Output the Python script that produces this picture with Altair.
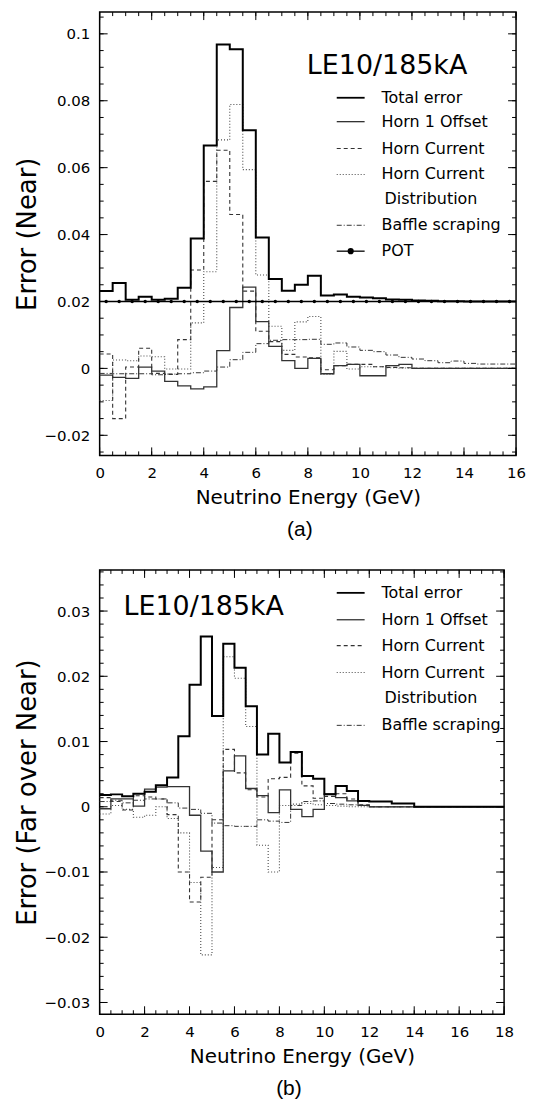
import altair as alt
import numpy as np
import pandas as pd

FONT = "DejaVu Sans"

# ---------------- data ----------------
edges_a = np.arange(0, 16.25, 0.5)   # bin edges, panel (a)
edges_b = np.arange(0, 18.25, 0.5)   # bin edges, panel (b)

# Panel (a): Error (Near), 0.5 GeV bins from 0 to 16 GeV
total_a = [0.0231, 0.0255, 0.0205, 0.0214, 0.0205, 0.0208, 0.0241, 0.0388,
           0.0666, 0.0968, 0.0954, 0.0712, 0.0391, 0.0267, 0.0232, 0.0250,
           0.0277, 0.0218, 0.0221, 0.0214, 0.0212, 0.0210, 0.0206, 0.0205,
           0.0203, 0.0202, 0.0201, 0.0201, 0.0200, 0.0200, 0.0200, 0.0200]
horn1_a = [-0.0020, -0.0027, -0.0030, 0.0004, -0.0008, -0.0039, -0.0052, -0.0061,
           -0.0055, 0.0053, 0.0182, 0.0243, 0.0140, 0.0066, 0.0023, 0.0000,
           0.0030, -0.0016, 0.0008, 0.0012, -0.0022, -0.0022, 0.0008, 0.0012,
           0.0, 0.0, 0.0, 0.0, 0.0, 0.0, 0.0, 0.0]
hc_a = [0.0043, -0.0150, 0.0004, 0.0060, -0.0015, -0.0018, 0.0086, 0.0294,
        0.0559, 0.0652, 0.0460, 0.0231, 0.0111, 0.0080, 0.0042, 0.0034,
        0.0032, -0.0004, 0.0008, 0.0012, 0.0012, 0.0005, 0.0003, 0.0002,
        0.0, 0.0, 0.0, 0.0, 0.0, 0.0, 0.0, 0.0]
hcd_a = [-0.0096, 0.0025, 0.0023, 0.0037, 0.0035, -0.0002, -0.0002, 0.0136,
         0.0289, 0.0683, 0.0789, 0.0594, 0.0279, 0.0126, 0.0054, 0.0139,
         0.0155, -0.0017, 0.0051, -0.0002, 0.0005, 0.0005, 0.0002, 0.0001,
         0.0, 0.0, 0.0, 0.0, 0.0, 0.0, 0.0, 0.0]
baffle_a = [-0.0015, -0.0016, -0.0016, -0.0016, -0.0019, -0.0017, -0.0016, -0.0013,
            -0.0008, 0.0004, 0.0026, 0.0048, 0.0074, 0.0084, 0.0086, 0.0086,
            0.0087, 0.0072, 0.0076, 0.0064, 0.0054, 0.0050, 0.0040, 0.0033,
            0.0028, 0.0023, 0.0017, 0.0022, 0.0015, 0.0013, 0.0013, 0.0013]
pot_a = [0.02, 0.02, 0.02, 0.02, 0.02, 0.02, 0.02, 0.02,
         0.02, 0.02, 0.02, 0.02, 0.02, 0.02, 0.02, 0.02,
         0.02, 0.02, 0.02, 0.02, 0.02, 0.02, 0.02, 0.02,
         0.02, 0.02, 0.02, 0.02, 0.02, 0.02, 0.02, 0.02]

# Panel (b): Error (Far over Near), 0.5 GeV bins from 0 to 18 GeV
total_b = [0.0018, 0.0019, 0.0016, 0.0020, 0.0023, 0.0033, 0.0045, 0.0108,
           0.0187, 0.0261, 0.0139, 0.0250, 0.0213, 0.0154, 0.0080, 0.0112,
           0.0068, 0.0084, 0.0047, 0.0043, 0.0019, 0.0032, 0.0024, 0.0009,
           0.0008, 0.0008, 0.0005, 0.0005, 0.0, 0.0, 0.0, 0.0,
           0.0, 0.0, 0.0, 0.0]
horn1_b = [-0.0003, 0.0012, 0.0012, 0.0001, 0.0027, 0.0030, 0.0031, 0.0031,
           -0.0013, -0.0068, -0.0100, 0.0055, 0.0078, 0.0028, 0.0017, -0.0009,
           0.0026, -0.0004, -0.0015, -0.0004, 0.0020, 0.0014, 0.0009, 0.0002,
           0.0, 0.0, 0.0, 0.0, 0.0, 0.0, 0.0, 0.0,
           0.0, 0.0, 0.0, 0.0]
hc_b = [0.0014, 0.0008, -0.0005, 0.0017, 0.0015, 0.0012, -0.0012, -0.0100,
        -0.0146, -0.0108, -0.0020, 0.0088, 0.0052, 0.0026, 0.0015, 0.0043,
        0.0045, 0.0082, 0.0032, 0.0013, 0.0016, 0.0020, 0.0012, 0.0003,
        0.0, 0.0, 0.0, 0.0, 0.0, 0.0, 0.0, 0.0,
        0.0, 0.0, 0.0, 0.0]
hcd_b = [-0.0011, 0.0002, -0.0004, -0.0016, -0.0013, 0.0000, -0.0018, -0.0040,
         -0.0116, -0.0227, -0.0093, 0.0230, 0.0197, 0.0123, -0.0059, -0.0100,
         0.0002, 0.0004, 0.0005, 0.0003, 0.0002, 0.0001, 0.0, 0.0,
         0.0, 0.0, 0.0, 0.0, 0.0, 0.0, 0.0, 0.0,
         0.0, 0.0, 0.0, 0.0]
baffle_b = [0.0008, 0.0010, 0.0006, 0.0010, 0.0012, 0.0012, 0.0006, -0.0002,
            -0.0004, -0.0010, -0.0025, -0.0029, -0.0030, -0.0030, -0.0020, -0.0022,
            -0.0024, 0.0002, 0.0008, 0.0009, 0.0005, 0.0004, 0.0003, 0.0002,
            0.0, 0.0, 0.0, 0.0, 0.0, 0.0, 0.0, 0.0,
            0.0, 0.0, 0.0, 0.0]

# axis tick values
xmaj_a = [0, 2, 4, 6, 8, 10, 12, 14, 16]
xmin_a = list(np.arange(0, 16.01, 0.5))
ymaj_a = [-0.02, 0, 0.02, 0.04, 0.06, 0.08, 0.1]
ymin_a = list(np.round(np.arange(-0.025, 0.1051, 0.005), 4))
xmaj_b = [0, 2, 4, 6, 8, 10, 12, 14, 16, 18]
xmin_b = list(np.arange(0, 18.01, 0.5))
ymaj_b = [-0.03, -0.02, -0.01, 0, 0.01, 0.02, 0.03]
ymin_b = list(np.round(np.arange(-0.030, 0.0361, 0.002), 4))

panel_label = "LE10/185kA"
legend_rows_a = ["Total error", "Horn 1 Offset", "Horn Current", "Horn Current",
                 "Distribution", "Baffle scraping", "POT"]
legend_keys_a = ["Total error", "Horn 1 Offset", "Horn Current",
                 "Horn Current Distribution", None, "Baffle scraping", "POT"]
legend_rows_b = legend_rows_a[:6]
legend_keys_b = legend_keys_a[:6]

# ---------------- styling ----------------
STYLE = {
    "Total error": dict(color="black", strokeWidth=2.0),
    "Horn 1 Offset": dict(color="#333333", strokeWidth=1.3),
    "Horn Current": dict(color="#333333", strokeWidth=1.1, strokeDash=[4, 3]),
    "Horn Current Distribution": dict(color="#4a4a4a", strokeWidth=1.1, strokeDash=[1, 2]),
    "Baffle scraping": dict(color="#333333", strokeWidth=1.0, strokeDash=[5, 2, 1, 2]),
    "POT": dict(color="black", strokeWidth=1.3),
}
DRAW_ORDER = ["Baffle scraping", "Horn Current Distribution", "Horn Current",
              "Horn 1 Offset", "POT", "Total error"]


def step_frame(edges, values):
    n = len(values)
    xs = list(edges[:n]) + [edges[n]]
    ys = list(values) + [values[-1]]
    return pd.DataFrame({"E": xs, "v": ys})


def tick_layers(xe_f, ye_f, W, H, xmaj, xmin, ymaj, ymin):
    out = []
    for vals, L in [(xmin, 4), (xmaj, 8)]:
        base = alt.Chart(pd.DataFrame({"E": vals})).mark_rule(color="black", strokeWidth=1)
        out.append(base.encode(x=xe_f(), y=alt.value(H), y2=alt.value(H - L)))
        out.append(base.encode(x=xe_f(), y=alt.value(0), y2=alt.value(L)))
    for vals, L in [(ymin, 4), (ymaj, 8)]:
        base = alt.Chart(pd.DataFrame({"v": vals})).mark_rule(color="black", strokeWidth=1)
        out.append(base.encode(y=ye_f(), x=alt.value(0), x2=alt.value(L)))
        out.append(base.encode(y=ye_f(), x=alt.value(W), x2=alt.value(W - L)))
    return out


def legend_layers(rows, keys, row_y, x0, x1, xt, title_xy):
    dummy = pd.DataFrame({"d": [0]})
    out = []
    for text, key, yy in zip(rows, keys, row_y):
        dx = 3 if key is None else 0
        out.append(alt.Chart(dummy).mark_text(
            text=text, align="left", baseline="middle", font=FONT, fontSize=16,
            color="black").encode(x=alt.value(xt + dx), y=alt.value(yy)))
        if key is not None:
            st = dict(STYLE[key])
            if key == "Total error":
                st["strokeWidth"] = 1.8
            out.append(alt.Chart(dummy).mark_rule(**st).encode(
                x=alt.value(x0), x2=alt.value(x1), y=alt.value(yy)))
            if key == "POT":
                out.append(alt.Chart(dummy).mark_point(
                    filled=True, color="black", size=38, opacity=1).encode(
                    x=alt.value((x0 + x1) / 2), y=alt.value(yy)))
    out.append(alt.Chart(dummy).mark_text(
        text=panel_label, align="left", baseline="middle", font=FONT, fontSize=27,
        color="black").encode(x=alt.value(title_xy[0]), y=alt.value(title_xy[1])))
    return out


def panel(series, edges, xdom, ydom, W, H, xmaj, xmin, ymaj, ymin, ytitle,
          caption, cap_dx, legend_rows, legend_keys, row_y, title_xy):
    xs = alt.Scale(domain=xdom, nice=False, zero=False)
    ys = alt.Scale(domain=ydom, nice=False, zero=False)
    xaxis = alt.Axis(values=xmaj, format="~g", title="Neutrino Energy (GeV)",
                     ticks=False, domain=False, grid=False, labelFlush=False,
                     labelFontSize=15, labelPadding=10, titleFontSize=20, titlePadding=7)
    yaxis = alt.Axis(values=ymaj, format="~g", title=ytitle, ticks=False, domain=False,
                     grid=False, labelFlush=False, labelFontSize=15, labelPadding=10,
                     titleFontSize=26, titlePadding=3)

    def xe_f():
        return alt.X("E:Q", scale=xs, axis=xaxis)

    def ye_f():
        return alt.Y("v:Q", scale=ys, axis=yaxis)

    layers = []
    for name in DRAW_ORDER:
        if name not in series:
            continue
        df = step_frame(edges, series[name])
        layers.append(alt.Chart(df).mark_line(interpolate="step-after", **STYLE[name])
                      .encode(x=xe_f(), y=ye_f()))
        if name == "POT":
            centers = pd.DataFrame({"E": np.array(edges[:len(series[name])]) + 0.25,
                                    "v": series[name]})
            layers.append(alt.Chart(centers).mark_point(
                filled=True, color="black", size=12, opacity=1).encode(x=xe_f(), y=ye_f()))
    layers += tick_layers(xe_f, ye_f, W, H, xmaj, xmin, ymaj, ymin)
    layers += legend_layers(legend_rows, legend_keys, row_y, 238, 266, 283, title_xy)
    return alt.layer(*layers).properties(
        width=W, height=H,
        title=alt.TitleParams(caption, orient="bottom", anchor="middle", frame="group",
                              font="Liberation Sans", fontSize=21, fontWeight="normal",
                              color="black", offset=12, dx=cap_dx))


series_a = {"Total error": total_a, "Horn 1 Offset": horn1_a, "Horn Current": hc_a,
            "Horn Current Distribution": hcd_a, "Baffle scraping": baffle_a, "POT": pot_a}
series_b = {"Total error": total_b, "Horn 1 Offset": horn1_b, "Horn Current": hc_b,
            "Horn Current Distribution": hcd_b, "Baffle scraping": baffle_b}

chart_a = panel(series_a, edges_a, [0, 16], [-0.026, 0.1065], 418, 445,
                xmaj_a, xmin_a, ymaj_a, ymin_a, "Error (Near)", "(a)", -8,
                legend_rows_a, legend_keys_a, [86, 110, 137, 163, 188, 214, 240], (208, 54))
chart_b = panel(series_b, edges_b, [0, 18], [-0.0318, 0.0363], 406, 446,
                xmaj_b, xmin_b, ymaj_b, ymin_b, "Error (Far over Near)", "(b)", -13,
                legend_rows_b, legend_keys_b, [23, 50, 76, 103, 129, 156], (24, 37))

chart = alt.vconcat(chart_a, chart_b, spacing=115, bounds="flush",
                    padding={"left": 6, "top": 0, "right": 2, "bottom": 2}
                    ).configure_view(stroke="black", strokeWidth=1.5
                    ).configure_axis(labelFont=FONT, titleFont=FONT, labelColor="black",
                                     titleColor="black", titleFontWeight="normal")

chart.save("out.html", embed_options={"renderer": "svg", "actions": False})
